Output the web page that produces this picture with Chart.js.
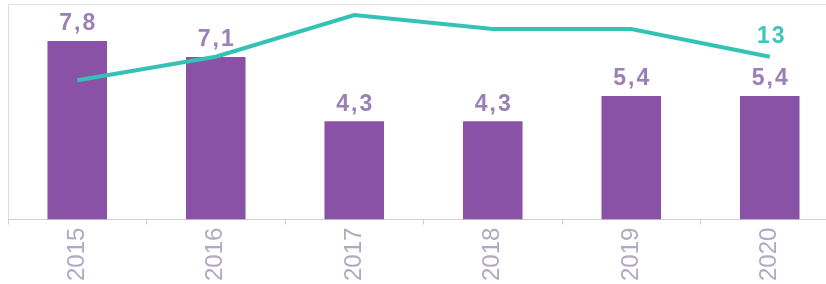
<!DOCTYPE html>
<html lang="en">
<head>
    <meta charset="UTF-8">
    <title>Chart</title>
    <script src="https://cdn.jsdelivr.net/npm/chart.js"></script>
    <style>
        html, body { margin: 0; padding: 0; background: #fff; overflow: hidden; }
        #wrap { width: 839px; height: 284px; }
    </style>
</head>
<body>
    <div id="wrap"><canvas id="mainChart"></canvas></div>

    <script>
        const years = ['2015', '2016', '2017', '2018', '2019', '2020'];
        const barValues = [7.8, 7.1, 4.3, 4.3, 5.4, 5.4];
        const lineValues = [11.3, 13.0, 16.0, 15.0, 15.0, 13.0];
        const barLabels = ['7,8', '7,1', '4,3', '4,3', '5,4', '5,4'];
        const lineLabels = ['', '', '', '', '', '13'];

        // labels above the bars + last point of the line
        const valueLabels = {
            id: 'valueLabels',
            afterDatasetsDraw(chart) {
                const ctx = chart.ctx;
                ctx.save();
                ctx.textAlign = 'center';
                ctx.textBaseline = 'middle';
                ctx.letterSpacing = '2px';
                ctx.font = 'bold 23px "Liberation Sans", Arial, sans-serif';
                ctx.fillStyle = '#9a80b4';
                chart.getDatasetMeta(0).data.forEach((bar, i) => {
                    ctx.fillText(barLabels[i], bar.x + 1, bar.y - 17);
                });
                ctx.fillStyle = '#3cc7b9';
                chart.getDatasetMeta(1).data.forEach((pt, i) => {
                    if (lineLabels[i]) ctx.fillText(lineLabels[i], pt.x + 2, pt.y - 20);
                });
                ctx.restore();
            }
        };

        // thin frame line along the top of the plot
        const topLine = {
            id: 'topLine',
            beforeDatasetsDraw(chart) {
                const a = chart.chartArea;
                const ctx = chart.ctx;
                ctx.save();
                ctx.strokeStyle = '#e4e4e4';
                ctx.lineWidth = 1;
                ctx.beginPath();
                ctx.moveTo(a.left, a.top + 0.5);
                ctx.lineTo(a.right, a.top + 0.5);
                ctx.stroke();
                ctx.restore();
            }
        };

        new Chart(document.getElementById('mainChart'), {
            type: 'bar',
            data: {
                labels: years,
                datasets: [{
                    type: 'bar',
                    data: barValues,
                    backgroundColor: '#8a52a6',
                    categoryPercentage: 1,
                    barPercentage: 0.43,
                    yAxisID: 'y',
                    order: 2
                }, {
                    type: 'line',
                    data: lineValues,
                    borderColor: '#33c2b3',
                    borderWidth: 4,
                    pointRadius: 0,
                    tension: 0,
                    yAxisID: 'y2',
                    order: 1
                }]
            },
            options: {
                responsive: true,
                maintainAspectRatio: false,
                animation: false,
                layout: { padding: { left: 0, top: 4, right: 0, bottom: 0 } },
                plugins: {
                    legend: { display: false },
                    tooltip: { enabled: false }
                },
                scales: {
                    x: {
                        offset: true,
                        grid: {
                            drawOnChartArea: false,
                            drawTicks: true,
                            tickLength: 5,
                            color: '#cfcfcf'
                        },
                        border: { color: '#cfcfcf' },
                        ticks: {
                            minRotation: 90,
                            maxRotation: 90,
                            color: '#b2a8c2',
                            padding: 3,
                            font: { family: '"Liberation Sans", Arial, sans-serif', size: 24 }
                        }
                    },
                    y: {
                        min: 0,
                        max: 9.42,
                        grid: { display: false },
                        border: { display: true, color: '#dcdcdc' },
                        ticks: { display: false }
                    },
                    y2: {
                        display: false,
                        min: 1.25,
                        max: 16.8
                    }
                }
            },
            plugins: [valueLabels, topLine]
        });
    </script>
</body>
</html>
